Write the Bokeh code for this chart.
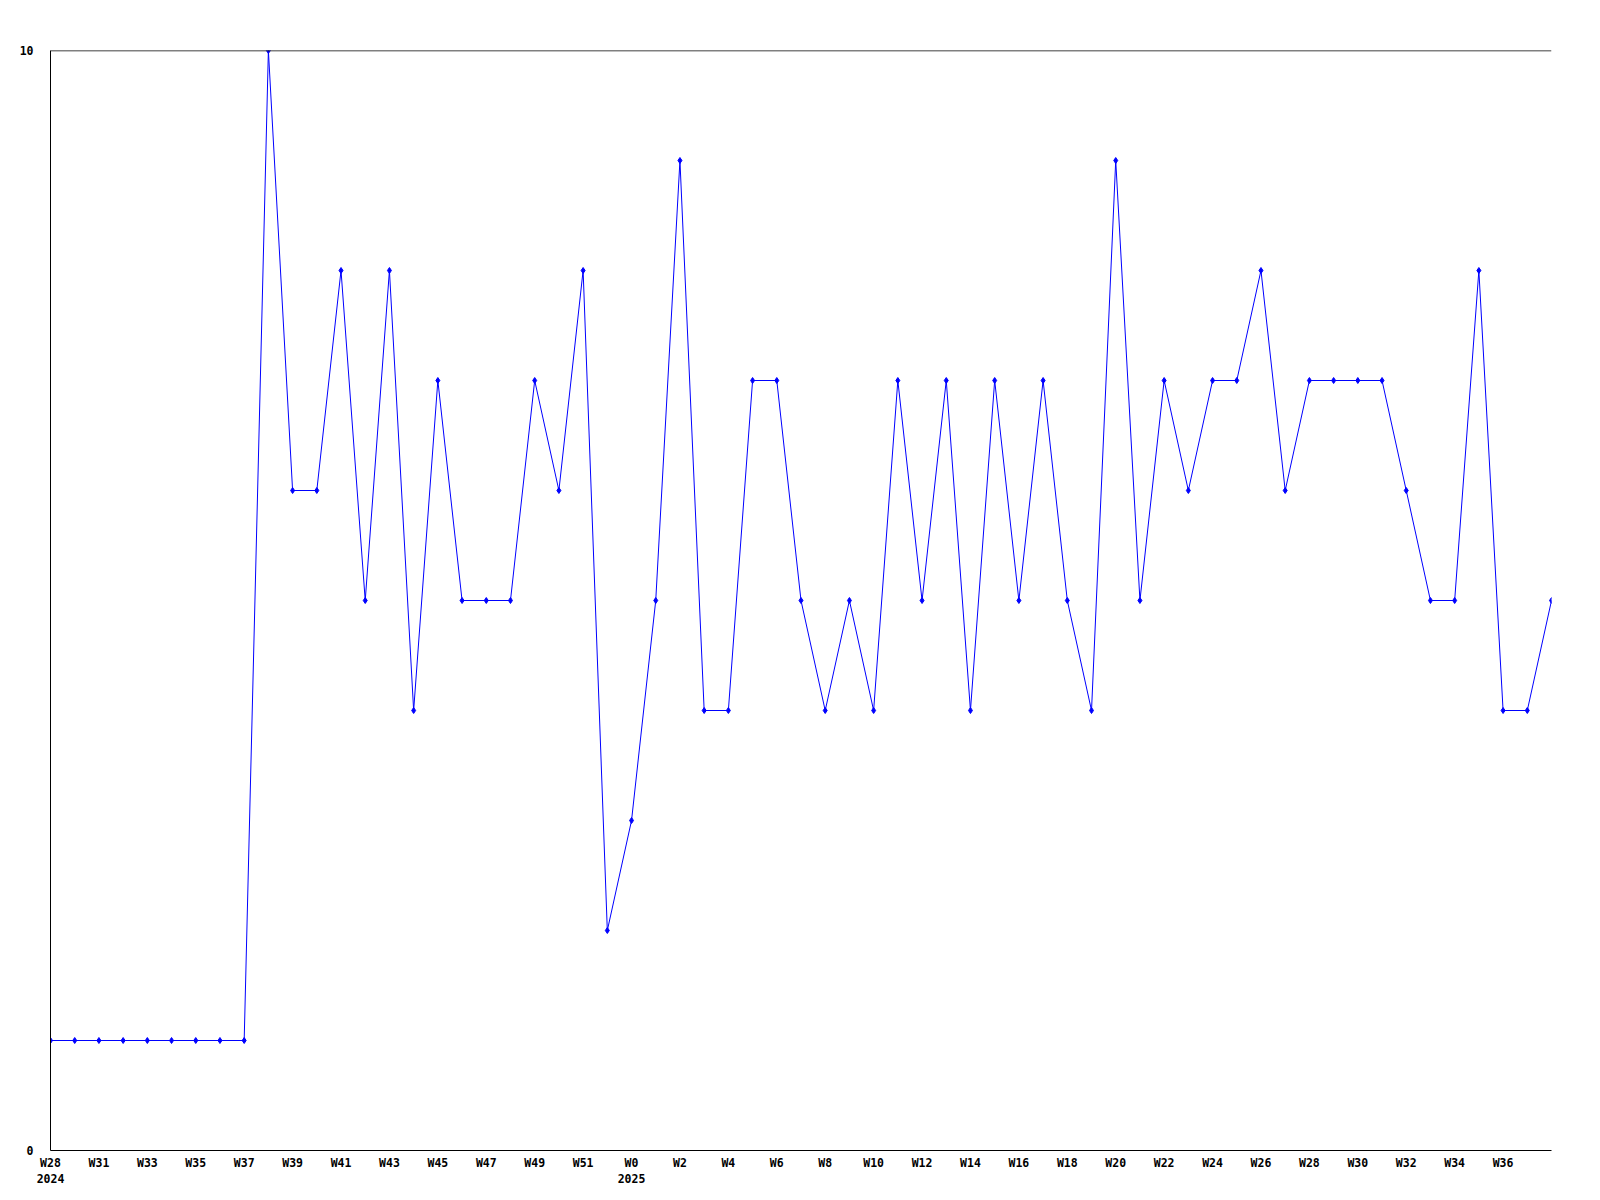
from bokeh.plotting import figure
from bokeh.models import FixedTicker, CustomJSTickFormatter, Range1d, Span
from bokeh.embed import file_html
from bokeh.resources import INLINE

week_labels = ["W28\n2024", "W30", "W31", "W32", "W33", "W34", "W35", "W36", "W37", "W38",
               "W39", "W40", "W41", "W42", "W43", "W44", "W45", "W46", "W47", "W48",
               "W49", "W50", "W51", "W52", "W0\n2025", "W1", "W2", "W3", "W4", "W5",
               "W6", "W7", "W8", "W9", "W10", "W11", "W12", "W13", "W14", "W15",
               "W16", "W17", "W18", "W19", "W20", "W21", "W22", "W23", "W24", "W25",
               "W26", "W27", "W28", "W29", "W30", "W31", "W32", "W33", "W34", "W35",
               "W36", "W37", "W38"]
values = [1, 1, 1, 1, 1, 1, 1, 1, 1, 10,
          6, 6, 8, 5, 8, 4, 7, 5, 5, 5,
          7, 6, 8, 2, 3, 5, 9, 4, 4, 7,
          7, 5, 4, 5, 4, 7, 5, 7, 4, 7,
          5, 7, 5, 4, 9, 5, 7, 6, 7, 7,
          8, 6, 7, 7, 7, 7, 6, 5, 5, 8,
          4, 4, 5]
y_ticks = [0, 10]

xs = list(range(len(values)))

p = figure(width=1584, height=1192, output_backend="svg", toolbar_location=None,
           min_border_left=50, min_border_top=50, min_border_right=33, min_border_bottom=42)
p.x_range = Range1d(0, len(values) - 1)
p.y_range = Range1d(min(y_ticks), max(y_ticks))
p.outline_line_color = None
p.background_fill_color = "white"

p.line(xs, values, line_color="#0000FF", line_width=1)
p.scatter(xs, values, marker="diamond", size=6, fill_color="#0000FF", line_color="#0000FF")

font = "DejaVu Sans Mono"
# x axis
p.xaxis.ticker = FixedTicker(ticks=[i for i in xs if i % 2 == 0 and i < len(values) - 1])
p.xaxis.formatter = CustomJSTickFormatter(args=dict(labels=week_labels),
                                          code="return labels[Math.round(tick)] || '';")
p.xaxis.major_label_text_font = font
p.xaxis.major_label_text_font_style = "bold"
p.xaxis.major_label_text_font_size = "11.5px"
p.xaxis.major_label_text_color = "black"
p.xaxis.major_label_text_line_height = 1.2
p.xaxis.major_label_standoff = 5
p.xaxis.major_tick_line_color = None
p.xaxis.major_tick_out = 0
p.xaxis.major_tick_in = 0
p.xaxis.minor_tick_line_color = None
p.xaxis.axis_line_color = "black"
p.xaxis.axis_line_width = 1

# y axis
p.yaxis.ticker = FixedTicker(ticks=y_ticks)
p.yaxis.major_label_text_font = font
p.yaxis.major_label_text_font_style = "bold"
p.yaxis.major_label_text_font_size = "11.5px"
p.yaxis.major_label_text_color = "black"
p.yaxis.major_label_standoff = 17
p.yaxis.major_tick_line_color = None
p.yaxis.major_tick_out = 0
p.yaxis.major_tick_in = 0
p.yaxis.minor_tick_line_color = None
p.yaxis.axis_line_color = "black"

p.xgrid.grid_line_color = None
p.ygrid.grid_line_color = None
p.add_layout(Span(location=max(y_ticks), dimension="width", line_color="black", line_width=1.3))

open("out.html", "w").write(file_html(p, INLINE))
